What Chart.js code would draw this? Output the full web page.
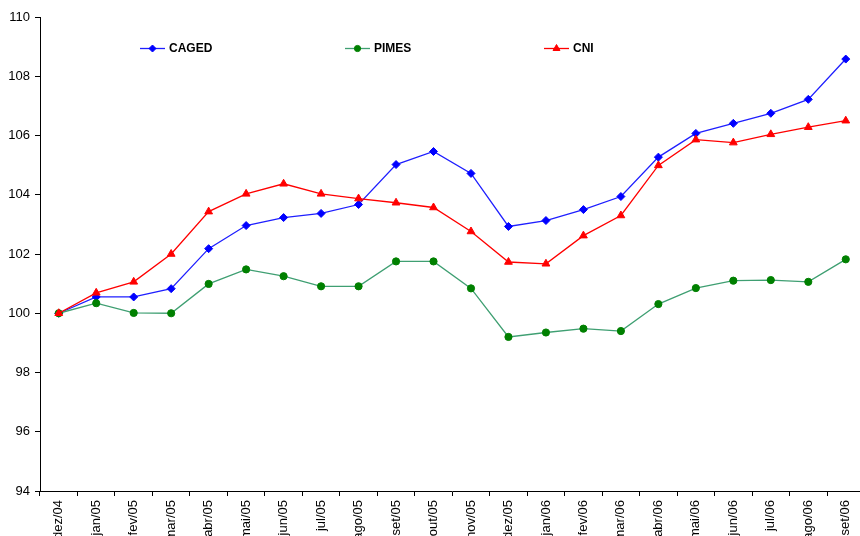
<!DOCTYPE html>
<html lang="pt">
<head>
<meta charset="utf-8">
<title>CAGED, PIMES e CNI</title>
<script src="https://cdn.jsdelivr.net/npm/chart.js@4"></script>
<style>
  html, body { margin: 0; padding: 0; background: #fff; }
  #wrap { width: 860px; height: 536px; overflow: hidden; position: relative; }
  #grafico { display: block; }
</style>
</head>
<body>
<div id="wrap">
  <canvas id="grafico" width="870" height="536"></canvas>
</div>
<script>
// meses da série (base dez/04 = 100)
const meses = ["dez/04", "jan/05", "fev/05", "mar/05", "abr/05", "mai/05", "jun/05", "jul/05",
  "ago/05", "set/05", "out/05", "nov/05", "dez/05", "jan/06", "fev/06", "mar/06",
  "abr/06", "mai/06", "jun/06", "jul/06", "ago/06", "set/06"];

const caged = [100, 100.55, 100.55, 100.83, 102.18, 102.96, 103.23, 103.37, 103.67, 105.02, 105.46,
  104.72, 102.93, 103.13, 103.5, 103.94, 105.27, 106.07, 106.41, 106.75, 107.22, 108.58];

const pimes = [100, 100.34, 100.01, 100.0, 100.99, 101.48, 101.25, 100.91, 100.91, 101.75, 101.75,
  100.84, 99.2, 99.35, 99.48, 99.4, 100.31, 100.85, 101.1, 101.12, 101.06, 101.82];

const cni = [100, 100.69, 101.06, 102.0, 103.43, 104.03, 104.37, 104.03, 103.87, 103.73, 103.57,
  102.76, 101.73, 101.67, 102.62, 103.3, 104.99, 105.86, 105.76, 106.04, 106.28, 106.5];

const yTicks = [94, 96, 98, 100, 102, 104, 106, 108, 110];

const fonte = "'Liberation Sans', Arial, sans-serif";

// legenda desenhada dentro da área do gráfico
const legendaInterna = {
  id: "legendaInterna",
  afterDraw(chart) {
    const ctx = chart.ctx;
    const posX = [140, 345, 544];
    const y = 48.5;
    ctx.save();
    chart.data.datasets.forEach((ds, i) => {
      const x0 = posX[i];
      ctx.strokeStyle = ds.borderColor;
      ctx.lineWidth = ds.borderWidth;
      ctx.beginPath();
      ctx.moveTo(x0, y);
      ctx.lineTo(x0 + 25, y);
      ctx.stroke();
      ctx.fillStyle = ds.pointBackgroundColor;
      ctx.strokeStyle = ds.pointBorderColor;
      ctx.lineWidth = 1;
      Chart.helpers.drawPoint(ctx, {
        pointStyle: ds.pointStyle,
        radius: ds.pointRadius - 0.5,
        rotation: 0,
        borderWidth: 1
      }, x0 + 12.5, y);
      ctx.fillStyle = "#000";
      ctx.font = "bold 12px " + fonte;
      ctx.textAlign = "left";
      ctx.textBaseline = "middle";
      ctx.fillText(ds.label, x0 + 29, y + 0.5);
    });
    ctx.restore();
  }
};

new Chart(document.getElementById("grafico"), {
  type: "line",
  data: {
    labels: meses,
    datasets: [
      {
        label: "CAGED",
        data: caged,
        borderColor: "#1f1fff",
        borderWidth: 1.3,
        pointStyle: "rectRot",
        pointRadius: 4,
        pointBackgroundColor: "#0000ff",
        pointBorderColor: "#0000ff",
        pointBorderWidth: 1,
        order: 2
      },
      {
        label: "PIMES",
        data: pimes,
        borderColor: "#3f9f72",
        borderWidth: 1.3,
        pointStyle: "circle",
        pointRadius: 3.6,
        pointBackgroundColor: "#008000",
        pointBorderColor: "#008000",
        pointBorderWidth: 1,
        order: 1
      },
      {
        label: "CNI",
        data: cni,
        borderColor: "#ff0000",
        borderWidth: 1.3,
        pointStyle: "triangle",
        pointRadius: 4.5,
        pointBackgroundColor: "#ff0000",
        pointBorderColor: "#ff0000",
        pointBorderWidth: 1,
        order: 0
      }
    ]
  },
  options: {
    responsive: false,
    devicePixelRatio: 1,
    animation: false,
    layout: { padding: { top: 17, left: 0, right: 0, bottom: 0 } },
    plugins: {
      legend: { display: false },
      tooltip: { enabled: false }
    },
    scales: {
      x: {
        offset: true,
        grid: {
          offset: true,
          drawOnChartArea: false,
          color: "#000",
          tickLength: 5
        },
        border: { color: "#000", width: 1 },
        ticks: {
          autoSkip: false,
          maxRotation: 90,
          minRotation: 90,
          padding: 4,
          color: "#000",
          font: { family: fonte, size: 13 }
        },
        afterFit(scale) { scale.height = 45; }
      },
      y: {
        min: 94,
        max: 110,
        afterBuildTicks(scale) { scale.ticks = yTicks.map(v => ({ value: v })); },
        grid: {
          drawOnChartArea: false,
          color: "#000",
          tickLength: 5
        },
        border: { color: "#000", width: 1 },
        ticks: {
          padding: 5,
          color: "#000",
          font: { family: fonte, size: 13 }
        },
        afterFit(scale) { scale.width = 40; }
      }
    }
  },
  plugins: [legendaInterna]
});
</script>
</body>
</html>
